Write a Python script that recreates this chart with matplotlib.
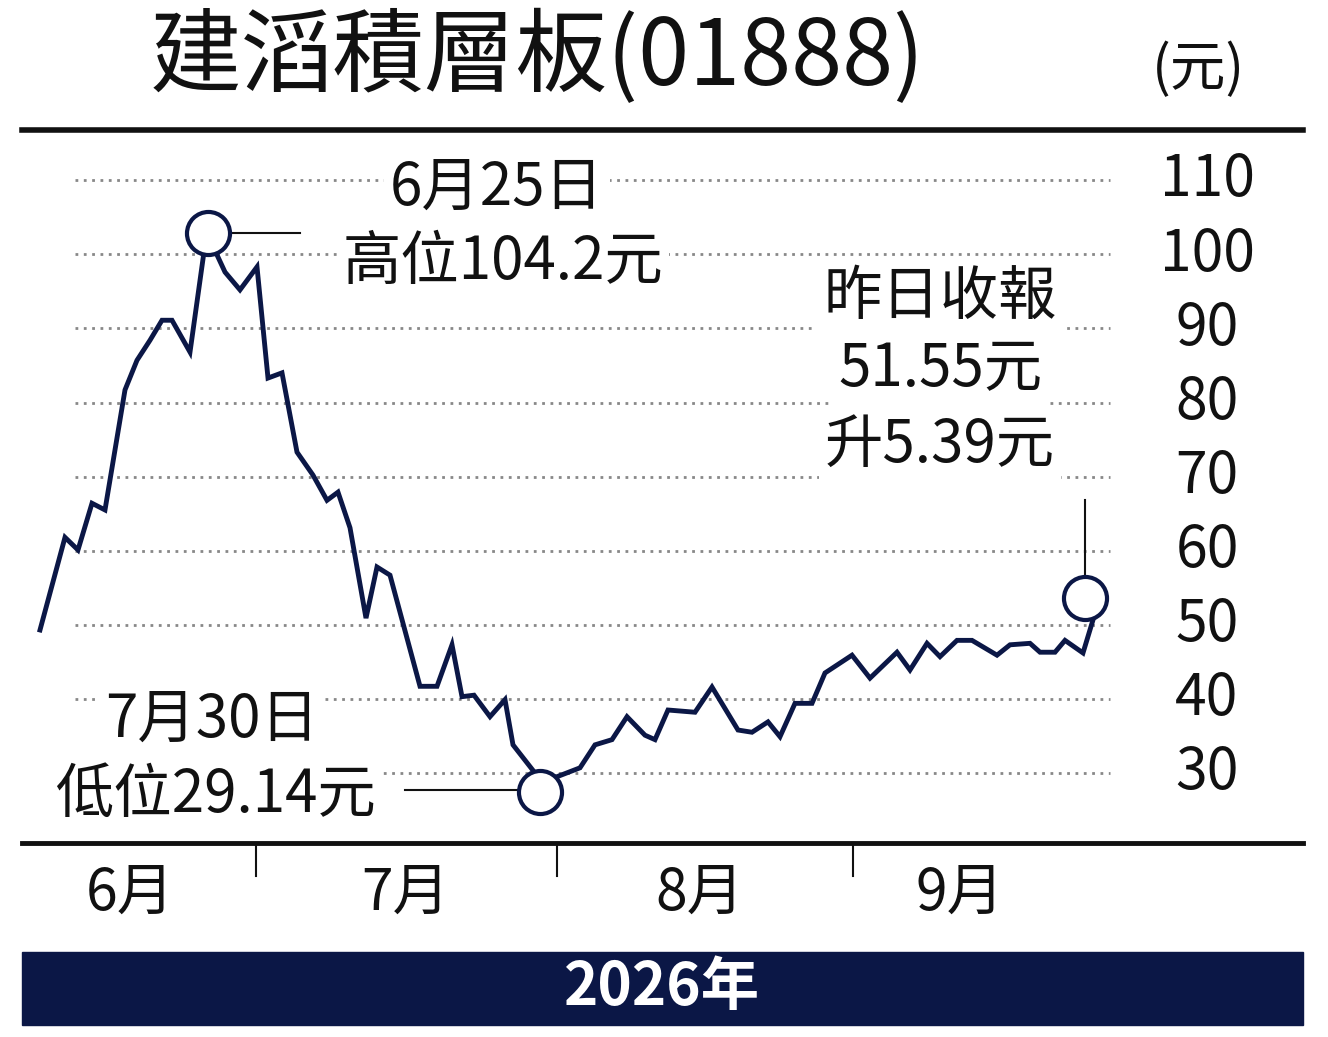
import matplotlib
matplotlib.use("Agg")
import matplotlib.pyplot as plt
from matplotlib.patches import Rectangle

plt.rcParams['font.family'] = ['Noto Sans CJK TC', 'DejaVu Sans']

xs = [40,65,78,92,105,125,137,150,162,172,190,208,215,225,240,257,268,282,297,313,327,338,350,366,377,390,420,437,452,462,474,490,505,513,540,557,580,595,612,627,645,655,668,695,712,738,752,768,780,795,812,825,852,870,897,910,927,940,957,972,997,1010,1030,1040,1055,1065,1083,1095]
prices = [49.3,61.8,60.1,66.4,65.5,81.7,85.7,88.4,91.1,91.1,86.8,104.2,100.5,97.6,95.2,98.3,83.3,84.0,73.3,70.2,66.8,67.9,63.1,50.9,57.8,56.7,41.7,41.7,47.3,40.3,40.5,37.6,39.9,33.8,29.14,29.5,30.7,33.8,34.5,37.6,35.1,34.5,38.5,38.2,41.6,35.8,35.5,36.9,34.9,39.4,39.4,43.5,45.9,42.8,46.3,43.9,47.5,45.7,47.9,47.9,45.9,47.3,47.5,46.3,46.3,47.9,46.2,51.55]
yticks = [30,40,50,60,70,80,90,100,110]
months = ["6月","7月","8月","9月"]
month_label_x = [130,405,700,960]
month_bounds = [256,557,853]

W, H = 1328, 1037
fig = plt.figure(figsize=(W/100, H/100), dpi=100)
NAVY = '#0b1746'

def fx(px): return px / W
def fy(py): return 1 - py / H

ax = fig.add_axes([fx(22), fy(843), fx(1303) - fx(22), fy(132) - fy(843)])
ax.set_xlim(22, 1303)
def vy(py): return 30 + (773 - py) / 7.41
ax.set_ylim(vy(843), vy(132))
ax.axis('off')

for v in yticks:
    ax.plot([75, 1110], [v, v], ls=(0, (1, 2)), color='#888888', lw=2, zorder=1)
    ax.text(1207, v, str(v), ha='center', va='center', fontsize=41, color='#111111', fontweight='medium')

ax.plot(xs, prices, color=NAVY, lw=3.5, zorder=3, solid_joinstyle='miter')

hi_i = prices.index(max(prices)); lo_i = prices.index(min(prices))
for xv, yv in [(xs[hi_i], vy(233)), (xs[lo_i], vy(792)), (1085, vy(598))]:
    ax.plot([xv], [yv], 'o', ms=31, mfc='white', mec=NAVY, mew=3, zorder=5)

ax.plot([225, 300], [vy(233), vy(233)], color='#111111', lw=1.5, zorder=2)
ax.plot([405, 520], [vy(790), vy(790)], color='#111111', lw=1.5, zorder=2)
ax.plot([1085, 1085], [vy(578), vy(500)], color='#111111', lw=1.5, zorder=2)

bb = dict(facecolor='white', edgecolor='none', pad=4)
kw = dict(ha='center', va='center', fontsize=42, fontweight='medium', bbox=bb, zorder=4, color='#111111')
ax.text(497, vy(188), "6月25日", **kw)
ax.text(503, vy(262), "高位104.2元", **kw)
ax.text(212, vy(720), "7月30日", **kw)
ax.text(215, vy(795), "低位29.14元", **kw)
ax.text(940, vy(297), "昨日收報", **kw)
ax.text(940, vy(370), "51.55元", **kw)
ax.text(940, vy(445), "升5.39元", **kw)

fig.text(fx(150), fy(58), "建滔積層板(01888)", ha='left', va='center', fontsize=66, color='#111111', fontweight='medium')
fig.text(fx(1198), fy(70), "(元)", ha='center', va='center', fontsize=40, color='#111111', fontweight='medium')

fig.add_artist(plt.Line2D([fx(22), fx(1303)], [fy(130), fy(130)], color='#111111', lw=4))
fig.add_artist(plt.Line2D([fx(22), fx(1303)], [fy(843), fy(843)], color='#111111', lw=3.5))
for b in month_bounds:
    fig.add_artist(plt.Line2D([fx(b), fx(b)], [fy(843), fy(876)], color='#111111', lw=1.5))
for lab, x in zip(months, month_label_x):
    fig.text(fx(x), fy(893), lab, ha='center', va='center', fontsize=41, color='#111111', fontweight='medium')

fig.add_artist(Rectangle((fx(22), fy(1025)), fx(1303) - fx(22), fy(952) - fy(1025), color=NAVY, transform=fig.transFigure))
fig.text(fx(662), fy(988), "2026年", ha='center', va='center', fontsize=42, color='white', fontweight='bold')

fig.savefig("out.png", dpi=100, facecolor='white')
